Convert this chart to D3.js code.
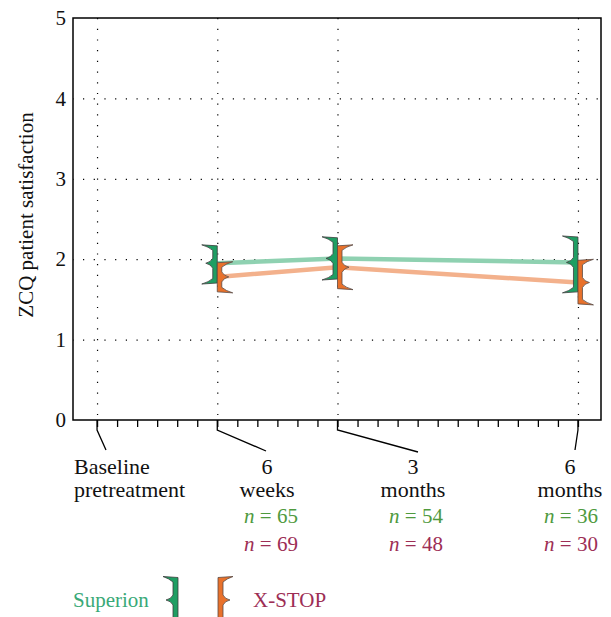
<!DOCTYPE html>
<html><head><meta charset="utf-8">
<script src="https://cdn.jsdelivr.net/npm/d3@7"></script>
<style>
body{margin:0;background:#fff;}
svg text{font-family:"Liberation Serif","Tinos","Noto Serif","DejaVu Serif",serif !important;}
</style></head>
<body><svg id="c" width="611" height="617"></svg>
<script>
// ---- data ----
const timeWeeks = [6, 12, 24];
const superionMean  = [1.95, 2.01, 1.96];
const superionUpper = [2.16, 2.26, 2.27];
const superionLower = [1.71, 1.76, 1.60];
const xstopMean  = [1.78, 1.90, 1.71];
const xstopUpper = [1.95, 2.16, 1.98];
const xstopLower = [1.60, 1.64, 1.45];
const nSuperion = [65, 54, 36];
const nXstop = [69, 48, 30];
const majorTicks = [0, 6, 12, 24];
const majorLabels = [["Baseline", "pretreatment"], ["6", "weeks"], ["3", "months"], ["6", "months"]];
const yTicks = [0, 1, 2, 3, 4, 5];
const seriesNames = ["Superion", "X-STOP"];

// ---- layout ----
const L = 73, R = 601, T = 18, B = 420;
const svg = d3.select("#c");
const x = d3.scaleLinear().domain([-1.2, 25.15]).range([L, R]);
const y = d3.scaleLinear().domain([0, 5]).range([B, T]);

const cGreenFill = "#1f9e63", cOrangeFill = "#e8712b";
const cGreenLine = "#8fd1b1", cOrangeLine = "#f3b18c";
const cGreenText = "#4f9a3e", cRedText = "#9d2e55";
const cLegGreen = "#3aa978";

// gridlines
svg.append("g").attr("transform", `translate(0,${T})`)
  .call(d3.axisBottom(x).tickValues(majorTicks).tickSize(B - T).tickFormat(""))
  .call(g => g.select(".domain").remove())
  .selectAll("line").attr("stroke", "#000").attr("stroke-width", 1.2).attr("stroke-dasharray", "1.2,9.5");
svg.append("g").attr("transform", `translate(${L},0)`)
  .call(d3.axisRight(y).tickValues([1, 2, 3, 4]).tickSize(R - L).tickFormat(""))
  .call(g => g.select(".domain").remove())
  .selectAll("line").attr("stroke", "#000").attr("stroke-width", 1.2).attr("stroke-dasharray", "1.2,9.5").attr("stroke-dashoffset", -10);

// minor ticks
svg.append("g").attr("transform", `translate(0,${B})`)
  .call(d3.axisBottom(x).tickValues(d3.range(0, 25)).tickSize(7).tickFormat(""))
  .call(g => g.select(".domain").remove())
  .selectAll("line").attr("stroke", "#000").attr("stroke-width", 1.3);

// frame
svg.append("rect").attr("x", L).attr("y", T).attr("width", R - L).attr("height", B - T)
  .attr("fill", "none").attr("stroke", "#000").attr("stroke-width", 1.5);

// y tick labels
svg.append("g").attr("transform", `translate(${L},0)`)
  .call(d3.axisLeft(y).tickValues(yTicks).tickSize(0).tickPadding(7).tickFormat(d3.format("d")))
  .call(g => g.select(".domain").remove())
  .call(g => g.attr("font-family", null))
  .selectAll("text").attr("font-size", 21).attr("fill", "#111");

// y title
svg.append("text").attr("transform", `translate(33,215) rotate(-90)`)
  .attr("text-anchor", "middle").attr("font-size", 21).attr("fill", "#111")
  .text("ZCQ patient satisfaction");

// major ticks with slanted leaders
const leaderEnd = [[106, 450], [266, 451], [418, 452], [575, 450]];
majorTicks.forEach((w, i) => {
  const px = x(w);
  svg.append("path")
    .attr("d", `M${px},${B}L${px},${B + 10}L${leaderEnd[i][0]},${leaderEnd[i][1]}`)
    .attr("fill", "none").attr("stroke", "#000").attr("stroke-width", 1.3);
});

// category labels
const labelPos = [[74, "start"], [267, "middle"], [413, "middle"], [570, "middle"]];
majorLabels.forEach((lines, i) => {
  lines.forEach((s, j) => {
    svg.append("text").attr("x", labelPos[i][0]).attr("y", 474 + j * 23)
      .attr("text-anchor", labelPos[i][1]).attr("font-size", 22).attr("fill", "#111").text(s);
  });
});

// n labels
const nPos = [271, 416, 571];
[[nSuperion, cGreenText, 523], [nXstop, cRedText, 551]].forEach(([arr, col, yy]) => {
  arr.forEach((n, i) => {
    const t = svg.append("text").attr("x", nPos[i]).attr("y", yy)
      .attr("text-anchor", "middle").attr("font-size", 21).attr("fill", col);
    t.append("tspan").attr("font-style", "italic").text("n");
    t.append("tspan").text(" = " + n);
  });
});

// lines
const line = d3.line().x(d => x(d[0])).y(d => y(d[1]));
svg.append("path").datum(timeWeeks.map((w, i) => [w, superionMean[i]]))
  .attr("d", line).attr("fill", "none").attr("stroke", cGreenLine).attr("stroke-width", 4.5);
svg.append("path").datum(timeWeeks.map((w, i) => [w, xstopMean[i]]))
  .attr("d", line).attr("fill", "none").attr("stroke", cOrangeLine).attr("stroke-width", 4.5);

// marker path: dir=-1 points left (stem left of t), dir=+1 points right
function marker(t, top, mid, bot, dir, w, tip) {
  const s = t + dir * w;
  const f = v => s + dir * v;
  return `M${t},${top - 0.5}` +
    `L${f(tip)},${top - 1.5}` +
    `Q${f(4)},${top + 0.5} ${s},${top + 4}` +
    `L${s},${mid - 5}` +
    `Q${f(2)},${mid - 1} ${f(7)},${mid}` +
    `Q${f(2)},${mid + 1} ${s},${mid + 5}` +
    `L${s},${bot - 4}` +
    `Q${f(4)},${bot - 0.5} ${f(tip)},${bot + 1.5}` +
    `L${t},${bot + 0.5}Z`;
}
timeWeeks.forEach((w, i) => {
  svg.append("path")
    .attr("d", marker(x(w), y(superionUpper[i]), y(superionMean[i]), y(superionLower[i]), -1, 4.5, 11))
    .attr("fill", cGreenFill).attr("stroke", "#3d3d3d").attr("stroke-width", 0.8);
  svg.append("path")
    .attr("d", marker(x(w), y(xstopUpper[i]), y(xstopMean[i]), y(xstopLower[i]), 1, 4.5, 11))
    .attr("fill", cOrangeFill).attr("stroke", "#5a4a44").attr("stroke-width", 0.8);
});

// legend
svg.append("text").attr("x", 73).attr("y", 607).attr("font-size", 21).attr("fill", cLegGreen).text(seriesNames[0]);
svg.append("path").attr("d", marker(178, 578, 600, 624, -1, 5, 10))
  .attr("fill", cGreenFill).attr("stroke", "#3d3d3d").attr("stroke-width", 0.8);
svg.append("path").attr("d", marker(218, 578, 600, 624, 1, 5, 10))
  .attr("fill", cOrangeFill).attr("stroke", "#5a4a44").attr("stroke-width", 0.8);
svg.append("text").attr("x", 253).attr("y", 607).attr("font-size", 21).attr("fill", cRedText).text(seriesNames[1]);
</script></body></html>
